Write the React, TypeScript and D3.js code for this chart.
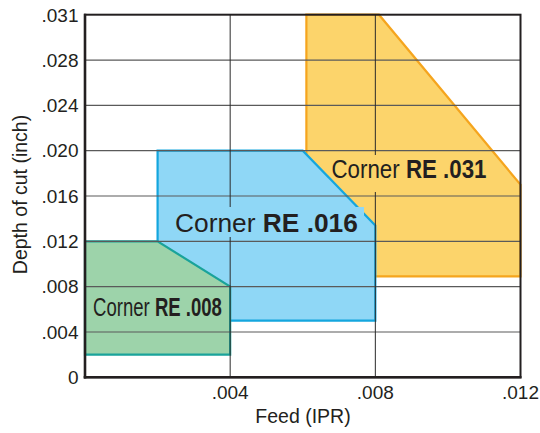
import React from "react";
import * as d3 from "d3";

// ---- data ----
const xTickValues = [0.004, 0.008, 0.012];
const xTickLabels = [".004", ".008", ".012"];
const yTickValues = [0, 0.004, 0.008, 0.012, 0.016, 0.02, 0.024, 0.028, 0.032];
const yTickLabels = ["0", ".004", ".008", ".012", ".016", ".020", ".024", ".028", ".031"];
const xGridValues = [0.004, 0.008];

// region polygons: [feed, depth]
const re031: [number, number][] = [
  [0.0061, 0.032], [0.0081, 0.032], [0.012, 0.017], [0.012, 0.0089], [0.0061, 0.0089],
];
const re016: [number, number][] = [
  [0.002, 0.02], [0.006, 0.02], [0.008, 0.0134], [0.008, 0.005], [0.002, 0.005],
];
const re008: [number, number][] = [
  [0, 0.012], [0.002, 0.012], [0.004, 0.008], [0.004, 0.002], [0, 0.002],
];
const regionNames = ["Corner ", "Corner ", "Corner "];
const regionBold = ["RE .031", "RE .016", "RE .008"];

// ---- layout / styles ----
const W = 540, H = 433;
const L = 85, R = 520.5, T = 14.7, B = 377.3;
const FONT = "'Liberation Sans', Arial, Helvetica, sans-serif";
const INK = "#231f20";

const regionStyles = [
  { fill: "#fcd46b", stroke: "#f5a51e" },
  { fill: "#8fd7f6", stroke: "#14a6de" },
  { fill: "#9dd3aa", stroke: "#1aa39a" },
];
// label placement in pixels: x start, baseline, font size, horizontal scale, box
const labelStyles = [
  { x: 331.5, y: 178, size: 26, sx: 0.858, box: [328, 155, 164, 37] },
  { x: 175, y: 231.5, size: 26, sx: 1.013, box: [171, 207, 193, 30] },
  { x: 93, y: 315.7, size: 26, sx: 0.714, box: [90, 292, 137, 32] },
];

export default function App() {
  const x = d3.scaleLinear().domain([0, 0.012]).range([L, R]);
  const y = d3.scaleLinear().domain([0, 0.032]).range([B, T]);
  const line = d3
    .line<[number, number]>()
    .x((d) => x(d[0]))
    .y((d) => y(d[1]))
    .curve(d3.curveLinearClosed);
  const regions = [re031, re016, re008];
  const yb = labelStyles[0].box;

  return (
    <svg
      width={W}
      height={H}
      viewBox={`0 0 ${W} ${H}`}
      style={{ position: "absolute", left: 0, top: 0, background: "#fff" }}
      fontFamily={FONT}
    >
      <defs>
        <clipPath id="yboxclip">
          <rect x={yb[0]} y={yb[1]} width={yb[2]} height={yb[3]} />
        </clipPath>
      </defs>
      <rect x={0} y={0} width={W} height={H} fill="#fff" />
      {regions.map((r, i) => (
        <path
          key={i}
          d={line(r) || ""}
          fill={regionStyles[i].fill}
          stroke={regionStyles[i].stroke}
          strokeWidth={2.2}
          strokeLinejoin="miter"
        />
      ))}
      {/* horizontal grid */}
      {yTickValues.slice(1, -1).map((v, i) => (
        <line key={"hg" + i} x1={L} x2={R} y1={y(v)} y2={y(v)} stroke="#5a5a5a" strokeWidth={1.2} />
      ))}
      {/* vertical grid */}
      {xGridValues.map((v, i) => (
        <line key={"vg" + i} x1={x(v)} x2={x(v)} y1={T} y2={B} stroke="#2a2a2a" strokeWidth={1} />
      ))}
      {/* label background boxes */}
      {labelStyles.map((s, i) => (
        <rect key={"bx" + i} x={s.box[0]} y={s.box[1]} width={s.box[2]} height={s.box[3]} fill={regionStyles[i].fill} />
      ))}
      {/* restore blue region where the yellow label box overlaps it */}
      <path
        d={line(re016) || ""}
        fill={regionStyles[1].fill}
        stroke={regionStyles[1].stroke}
        strokeWidth={2.2}
        clipPath="url(#yboxclip)"
      />
      {/* labels */}
      {labelStyles.map((s, i) => (
        <text
          key={"lb" + i}
          transform={`translate(${s.x},${s.y}) scale(${s.sx},1)`}
          fontSize={s.size}
          fill={INK}
        >
          <tspan>{regionNames[i]}</tspan>
          <tspan fontWeight="bold">{regionBold[i]}</tspan>
        </text>
      ))}
      {/* frame */}
      <rect x={L} y={T} width={R - L} height={B - T} fill="none" stroke={INK} strokeWidth={2} />
      <line x1={L} x2={L} y1={T - 1} y2={B + 1.3} stroke={INK} strokeWidth={2.6} />
      <line x1={L - 1.3} x2={R + 1} y1={B} y2={B} stroke={INK} strokeWidth={2.6} />
      {/* y ticks */}
      {yTickValues.map((v, i) => (
        <text key={"yt" + i} x={78.5} y={y(v) + 6.8} fontSize={19} textAnchor="end" fill={INK}>
          {yTickLabels[i]}
        </text>
      ))}
      {/* x ticks */}
      {xTickValues.map((v, i) => (
        <text key={"xt" + i} x={x(v)} y={399} fontSize={19} textAnchor="middle" fill={INK}>
          {xTickLabels[i]}
        </text>
      ))}
      <text x={303} y={423.3} fontSize={19.5} textAnchor="middle" fill={INK}>
        Feed (IPR)
      </text>
      <text
        transform={`translate(26.5,194.5) rotate(-90)`}
        fontSize={19.5}
        textAnchor="middle"
        fill={INK}
      >
        Depth of cut (inch)
      </text>
    </svg>
  );
}
